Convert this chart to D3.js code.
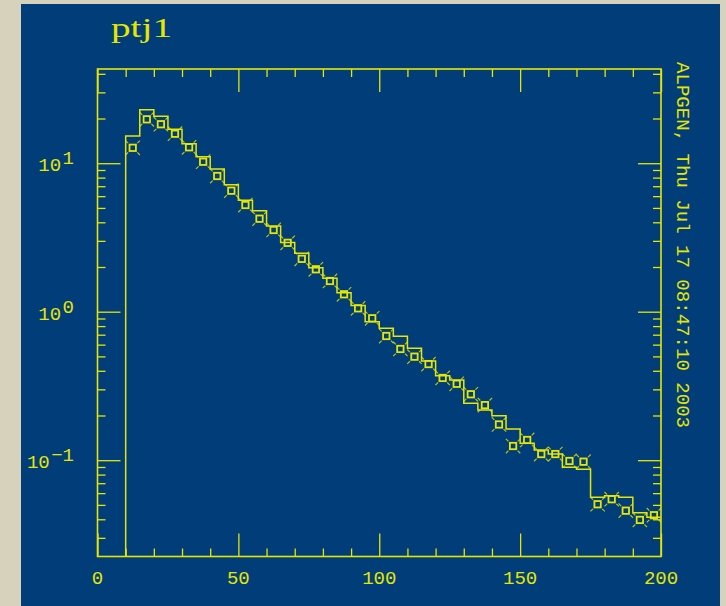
<!DOCTYPE html>
<html>
<head>
<meta charset="utf-8">
<script src="https://cdn.jsdelivr.net/npm/d3@7"></script>
<style>
  html, body { margin: 0; padding: 0; background: #d6d2bb; }
  svg { display: block; }
</style>
</head>
<body>
<script>
// ---------------- data ----------------
const title = "ptj1";
const stamp = "ALPGEN, Thu Jul 17 08:47:10 2003";
// lower edges of 5-unit bins
const binLow = [10,15,20,25,30,35,40,45,50,55,60,65,70,75,80,85,90,95,100,105,
                110,115,120,125,130,135,140,145,150,155,160,165,170,175,180,185,190,195];
const binWidth = 5;
// histogram (solid step line)
const histValues = [15.25,22.9,20.7,16.9,13.5,11.06,9.14,7.17,5.63,4.79,
                    3.78,2.93,2.48,1.98,1.68,1.34,1.10,0.856,0.773,0.683,
                    0.567,0.466,0.371,0.347,0.2416,0.218,0.1994,0.1622,0.1299,0.1171,
                    0.1101,0.0896,0.0868,0.0563,0.0577,0.0563,0.0443,0.0413];
// marker series (at bin centres)
const pointValues = [12.7,19.75,18.3,15.8,12.8,10.23,8.20,6.53,5.23,4.23,
                     3.55,2.91,2.27,1.93,1.61,1.31,1.054,0.903,0.686,0.561,
                     0.498,0.444,0.358,0.327,0.278,0.235,0.174,0.1246,0.1368,0.110,
                     0.110,0.0988,0.0977,0.0505,0.0546,0.0457,0.0396,0.0426];
const xMajorTicks = [0,50,100,150,200];
const xMinorTicks = [10,20,30,40,60,70,80,90,110,120,130,140,160,170,180,190];
const yDecades = [0.1,1,10];
const yDecadeExp = ["\u22121","0","1"];
const yMinorTicks = [0.03,0.04,0.05,0.06,0.07,0.08,0.09,
                     0.2,0.3,0.4,0.5,0.6,0.7,0.8,0.9,
                     2,3,4,5,6,7,8,9,20,30,40];
const xDomain = [0,200];
const yDomain = [0.02246,43.1];

// ---------------- drawing ----------------
const W = 726, H = 606;
const YEL = "#e6e600", BLUE = "#003d79";
const FONT = "'Liberation Mono', 'DejaVu Sans Mono', monospace";
const L = 97.5, R = 661, T = 69, B = 556.5;

const svg = d3.select("body").append("svg").attr("width", W).attr("height", H);
svg.append("rect").attr("x",0).attr("y",0).attr("width",W).attr("height",H).attr("fill","#d6d2bb");
svg.append("rect").attr("x",21).attr("y",4).attr("width",699).attr("height",H-4).attr("fill",BLUE);

const x = d3.scaleLinear().domain(xDomain).range([L, R]);
const y = d3.scaleLog().domain(yDomain).range([B, T]);

svg.append("clipPath").attr("id","clip").append("rect")
  .attr("x",L).attr("y",T).attr("width",R-L).attr("height",B-T);

function tickAxis(axisFn, scale, vals, size, tx, ty) {
  const g = svg.append("g").attr("transform",`translate(${tx},${ty})`)
    .call(axisFn(scale).tickValues(vals).tickSize(size).tickFormat(""));
  g.select(".domain").remove();
  g.selectAll("line").attr("stroke",YEL).attr("stroke-width",1.3);
  return g;
}
tickAxis(d3.axisBottom, x, xMajorTicks, -23, 0, B);
tickAxis(d3.axisBottom, x, xMinorTicks, -8, 0, B);
tickAxis(d3.axisTop, x, xMajorTicks, -23, 0, T);
tickAxis(d3.axisTop, x, xMinorTicks, -8, 0, T);
tickAxis(d3.axisLeft, y, yDecades, -23, L, 0);
tickAxis(d3.axisLeft, y, yMinorTicks, -8, L, 0);
tickAxis(d3.axisRight, y, yDecades, -23, R, 0);
tickAxis(d3.axisRight, y, yMinorTicks, -8, R, 0);

svg.append("rect").attr("x",L).attr("y",T).attr("width",R-L).attr("height",B-T)
  .attr("fill","none").attr("stroke",YEL).attr("stroke-width",1.6);

svg.append("g").selectAll("text").data(xMajorTicks).join("text")
  .attr("x", d => x(d)).attr("y", B + 27)
  .attr("text-anchor","middle").attr("fill",YEL)
  .attr("font-family",FONT).attr("font-size",19)
  .text(d => d);

const yl = svg.append("g");
yDecades.forEach((d,i) => {
  const ty = y(d);
  const ex = yl.append("text").attr("x",74).attr("y",ty+1)
    .attr("text-anchor","end").attr("fill",YEL)
    .attr("font-family",FONT).attr("font-size",19).text(yDecadeExp[i]);
  const w = ex.node().getComputedTextLength();
  yl.append("text").attr("x",74 - w - 1.5).attr("y",ty+8)
    .attr("text-anchor","end").attr("fill",YEL)
    .attr("font-family",FONT).attr("font-size",19).text("10");
});

const stepPts = [[binLow[0], yDomain[0]]];
binLow.forEach((b,i) => {
  stepPts.push([b, histValues[i]]);
  stepPts.push([b + binWidth, histValues[i]]);
});
const line = d3.line().x(d => x(d[0])).y(d => y(d[1]));
svg.append("path").attr("clip-path","url(#clip)")
  .attr("d", line(stepPts)).attr("fill","none")
  .attr("stroke",YEL).attr("stroke-width",1.5);

const mk = svg.append("g").attr("clip-path","url(#clip)")
  .selectAll("g").data(binLow).join("g")
  .attr("transform",(d,i) => `translate(${x(d + binWidth/2)},${y(pointValues[i])})`);
mk.append("rect").attr("x",-3.2).attr("y",-3.2).attr("width",6.4).attr("height",6.4)
  .attr("fill","none").attr("stroke",YEL).attr("stroke-width",1.8);
[[1,1],[1,-1],[-1,1],[-1,-1]].forEach(([sx,sy]) => {
  mk.append("line").attr("x1",sx*4.6).attr("y1",sy*4.6)
    .attr("x2",sx*7.2).attr("y2",sy*7.2)
    .attr("stroke",YEL).attr("stroke-opacity",0.8).attr("stroke-width",1.2);
});

svg.append("text").attr("x",111).attr("y",37).attr("fill",YEL)
  .attr("font-family","'Liberation Serif', serif").attr("font-size",28)
  .attr("textLength",61).attr("lengthAdjust","spacingAndGlyphs")
  .text(title);

svg.append("text").attr("transform","translate(677,62) rotate(90)")
  .attr("fill",YEL).attr("font-family","'Liberation Mono', monospace")
  .attr("font-size",19).attr("textLength",366).attr("lengthAdjust","spacingAndGlyphs")
  .text(stamp);
</script>
</body>
</html>
